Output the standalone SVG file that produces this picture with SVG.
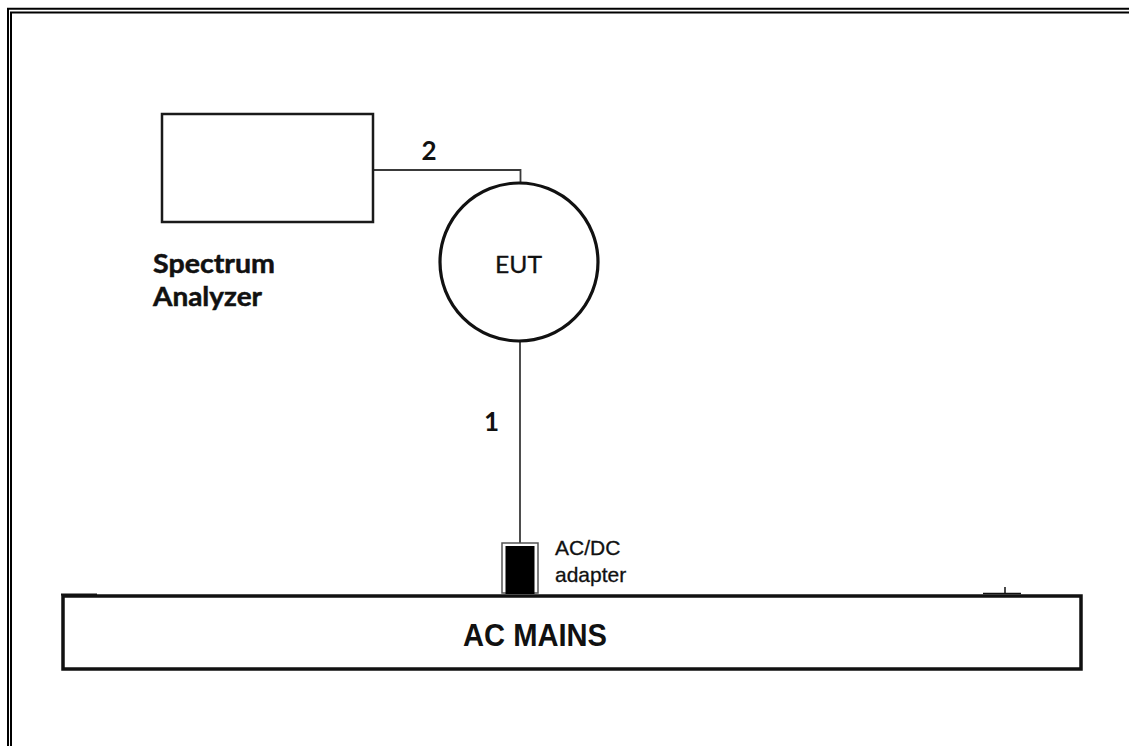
<svg xmlns="http://www.w3.org/2000/svg" width="1129" height="746" viewBox="0 0 1129 746">
  <style>
    .frame { fill: none; stroke: #000; stroke-width: 2; }
    .box { fill: #fff; stroke: #1a1a1a; stroke-width: 2.5; }
    .mains { fill: #fff; stroke: #111; stroke-width: 3.5; }
    .wire { fill: none; stroke: #3a3a3a; stroke-width: 1.8; }
    .lbl { font-family: Lato, "Open Sans", sans-serif; font-weight: bold; fill: #111; }
    .eut { font-family: Lato, "Open Sans", sans-serif; fill: #111; }
    .sans { font-family: "Liberation Sans", Arial, sans-serif; fill: #111; }
  </style>
  <rect width="1129" height="746" fill="#fff"/>
  <g id="frame">
    <path class="frame" d="M8,746 V8.8 H1129"/>
    <path class="frame" d="M11,746 V12.5 H1129"/>
  </g>
  <g id="connectors">
    <path class="wire" d="M373,170 H520.5 V183"/>
    <path class="wire" d="M520,342 V543"/>
    <text class="lbl" x="429" y="160" font-size="26" text-anchor="middle">2</text>
    <text class="lbl" x="491.5" y="431" font-size="26" text-anchor="middle">1</text>
  </g>
  <g id="spectrum-analyzer">
    <rect class="box" x="162" y="114" width="211" height="108"/>
    <text class="lbl" x="153" y="273" font-size="27" textLength="122" lengthAdjust="spacingAndGlyphs" stroke="#111" stroke-width="0.5">Spectrum</text>
    <text class="lbl" x="153" y="306" font-size="27" textLength="109" lengthAdjust="spacingAndGlyphs" stroke="#111" stroke-width="0.5">Analyzer</text>
  </g>
  <g id="eut">
    <circle cx="519" cy="262" r="79" fill="#fff" stroke="#111" stroke-width="3.2"/>
    <text class="eut" x="518.5" y="273" font-size="24" text-anchor="middle" textLength="47" lengthAdjust="spacingAndGlyphs" stroke="#111" stroke-width="0.3">EUT</text>
  </g>
  <g id="ac-mains">
    <rect class="mains" x="63" y="596" width="1018" height="73"/>
    <path d="M61,594.5 H97" stroke="#111" stroke-width="2"/>
    <path d="M983,593.5 H1021 M1005,593 V587" stroke="#111" stroke-width="1.5"/>
    <text class="sans" x="463" y="646" font-size="31" font-weight="bold" textLength="144" lengthAdjust="spacingAndGlyphs">AC MAINS</text>
  </g>
  <g id="adapter">
    <rect x="502" y="543" width="36" height="50" fill="#fff" stroke="#555" stroke-width="1.5"/>
    <rect x="505.5" y="546" width="29" height="48" fill="#000"/>
    <text class="sans" x="555" y="555" font-size="21" stroke="#111" stroke-width="0.3">AC/DC</text>
    <text class="sans" x="555" y="582" font-size="21" stroke="#111" stroke-width="0.3">adapter</text>
  </g>
</svg>
